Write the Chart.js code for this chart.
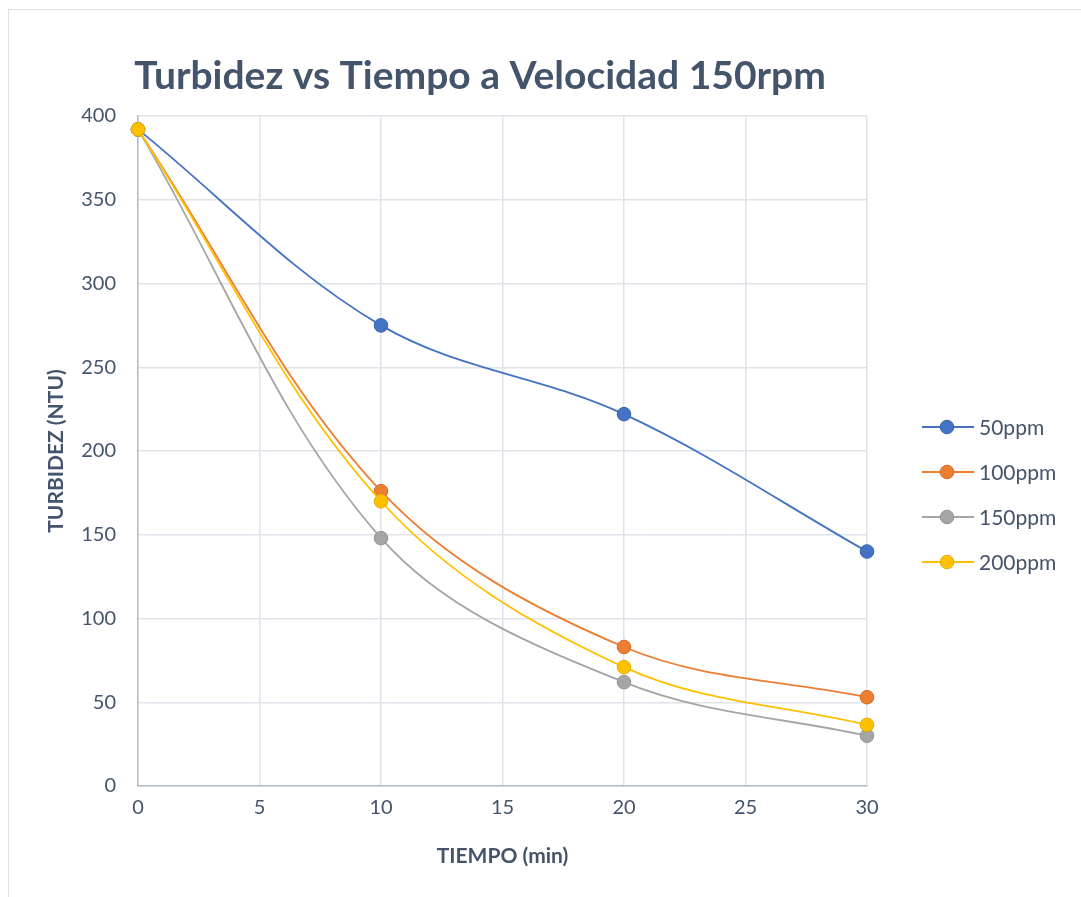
<!DOCTYPE html>
<html>
<head>
<meta charset="utf-8">
<script src="https://cdn.jsdelivr.net/npm/chart.js@4.4.1/dist/chart.umd.min.js"></script>
<style>
  html, body { margin: 0; padding: 0; background: #ffffff; }
  #wrap { position: relative; width: 1081px; height: 897px; overflow: hidden; }
  #frame { position: absolute; left: 8px; top: 9px; width: 1200px; height: 1000px;
           border: 1.5px solid #DCE0E7; box-sizing: border-box; }
  #chart { position: absolute; left: 0; top: 0; }
</style>
</head>
<body>
<div id="wrap">
  <div id="frame"></div>
  <canvas id="chart" width="1081" height="897"></canvas>
</div>
<script>
// Sampling times (min)
const tiempos = [0, 10, 20, 30];

// Turbidity (NTU) per coagulant dose
const serie50 = [392, 275, 222, 140];
const serie100 = [392, 176, 83, 53];
const serie150 = [392, 148, 62, 30];
const serie200 = [392, 170, 71, 36.5];

const nombresSeries = ['50ppm', '100ppm', '150ppm', '200ppm'];
const coloresSeries = ['#4472C4', '#ED7D31', '#A5A5A5', '#FFC000'];
const bordesPuntos = ['#3A63AD', '#D06B28', '#939393', '#E5AD00'];

const tituloGrafico = 'Turbidez vs Tiempo a Velocidad 150rpm';
const tituloX = 'TIEMPO (min)';
const tituloY = 'TURBIDEZ (NTU)';

const TEXT = '#44546A';
const FONT = 'Lato, "Open Sans", sans-serif';

const valores = [serie50, serie100, serie150, serie200];
const datasets = valores.map((vals, i) => ({
  label: nombresSeries[i],
  data: tiempos.map((t, j) => ({ x: t, y: vals[j] })),
  // later series are painted over earlier ones
  order: valores.length - 1 - i,
  clip: false,
  borderColor: coloresSeries[i],
  backgroundColor: coloresSeries[i],
  pointBackgroundColor: coloresSeries[i],
  pointBorderColor: bordesPuntos[i],
  pointBorderWidth: 1,
  pointRadius: 6.8,
  borderWidth: 1.8,
  tension: 0.35,
  fill: false
}));

// Title and right-hand legend drawn on the canvas
const decorPlugin = {
  id: 'decor',
  afterDraw(chart) {
    const ctx = chart.ctx;
    ctx.save();
    ctx.fillStyle = TEXT;
    ctx.font = 'bold 39px ' + FONT;
    ctx.textAlign = 'center';
    ctx.textBaseline = 'alphabetic';
    ctx.fillText(tituloGrafico, 480, 89);

    const rowY = [427, 472, 517, 562];
    chart.data.datasets.forEach((ds, i) => {
      const y = rowY[i];
      ctx.strokeStyle = ds.borderColor;
      ctx.lineWidth = 1.8;
      ctx.beginPath();
      ctx.moveTo(922, y);
      ctx.lineTo(974, y);
      ctx.stroke();
      ctx.fillStyle = ds.pointBackgroundColor;
      ctx.strokeStyle = ds.pointBorderColor;
      ctx.lineWidth = 1;
      ctx.beginPath();
      ctx.arc(947, y, 6.8, 0, Math.PI * 2);
      ctx.fill();
      ctx.stroke();
      ctx.fillStyle = TEXT;
      ctx.font = '21px ' + FONT;
      ctx.textAlign = 'left';
      ctx.textBaseline = 'middle';
      ctx.fillText(ds.label, 979, y + 1);
    });
    ctx.restore();
  }
};

new Chart(document.getElementById('chart'), {
  type: 'line',
  data: { datasets },
  plugins: [decorPlugin],
  options: {
    responsive: false,
    animation: false,
    layout: { padding: { left: 0, top: 116, right: 214, bottom: 0 } },
    plugins: { legend: { display: false }, title: { display: false }, tooltip: { enabled: false } },
    scales: {
      x: {
        type: 'linear',
        min: 0, max: 30,
        afterFit(scale) { scale.height = 111; },
        ticks: { stepSize: 5, color: TEXT, font: { family: FONT, size: 20 }, padding: 10, maxRotation: 0 },
        grid: { color: '#DFE3EA', lineWidth: 1.5, drawTicks: false },
        border: { color: '#B3BCCB', width: 1.5 },
        title: { display: true, text: tituloX, color: TEXT, font: { family: FONT, size: 21, weight: 'bold' }, padding: { top: 0, bottom: 28 } }
      },
      y: {
        min: 0, max: 400,
        afterFit(scale) { scale.width = 138; },
        ticks: { stepSize: 50, color: TEXT, font: { family: FONT, size: 20 }, padding: 22 },
        grid: { color: '#DFE3EA', lineWidth: 1.5, drawTicks: false },
        border: { color: '#B3BCCB', width: 1.5 },
        title: { display: true, text: tituloY, color: TEXT, font: { family: FONT, size: 21, weight: 'bold' }, padding: { top: 44, bottom: 0 } }
      }
    }
  }
});
</script>
</body>
</html>
